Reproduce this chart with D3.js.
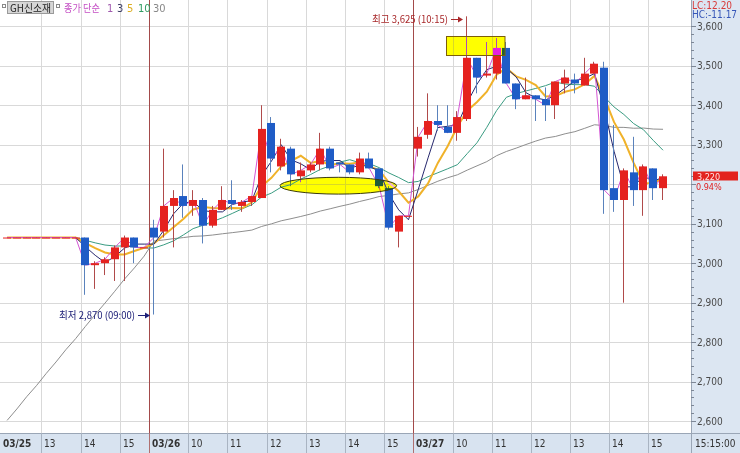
<!DOCTYPE html>
<html><head><meta charset="utf-8">
<script src="https://cdn.jsdelivr.net/npm/d3@7"></script>
<style>
html,body{margin:0;padding:0;background:#fff;}
svg{display:block;}
text{font-family:"Liberation Sans Narrow","DejaVu Sans Condensed","Arial Narrow",sans-serif;}
.kr{font-family:"Noto Sans CJK KR","Noto Sans CJK SC",sans-serif;}
</style></head><body>
<svg id="c" width="740" height="453"></svg>
<script>
// ---- categories (15-minute slots) ----
const times25 = ["12:00","12:15","12:30","12:45","13:00","13:15","13:30","13:45","14:00","14:15","14:30","14:45","15:00","15:15","15:30"];
const times26 = ["09:00","09:15","09:30","09:45","10:00","10:15","10:30","10:45","11:00","11:15","11:30","11:45","12:00","12:15","12:30","12:45","13:00","13:15","13:30","13:45","14:00","14:15","14:30","14:45","15:00","15:15","15:30"];
const times27 = ["09:00","09:15","09:30","09:45","10:00","10:15","10:30","10:45","11:00","11:15","11:30","11:45","12:00","12:15","12:30","12:45","13:00","13:15","13:30","13:45","14:00","14:15","14:30","14:45","15:00","15:15"];

// ---- OHLC values ----
const open  = [3065,3065,3065,3065,3065,3065,3065,3065,
  3065,2995,3000,3010,3040,3065,3040,
  3090,3080,3145,3170,3145,3160,3095,3135,3160,3145,3155,3165,3355,3245,3290,3220,3235,3250,3290,3255,3250,3230,3265,3240,3190,3080,3120,
  3290,3325,3360,3345,3330,3365,3520,3475,3480,3545,3455,3415,3425,3415,3400,3455,3465,3450,3480,3495,3190,3160,3230,3185,3240,3190];
const high  = [3065,3065,3065,3065,3065,3065,3065,3065,
  3065,3005,3015,3045,3070,3065,3040,
  3110,3290,3185,3250,3185,3165,3145,3195,3210,3160,3170,3400,3370,3315,3295,3255,3255,3330,3295,3255,3250,3280,3280,3240,3195,3120,3120,
  3345,3430,3400,3400,3385,3625,3520,3560,3570,3560,3455,3470,3425,3445,3460,3490,3480,3520,3510,3510,3350,3240,3320,3250,3240,3225];
const low   = [3065,3065,3065,3065,3065,3065,3065,3065,
  2920,2935,2970,2955,2955,3000,3040,
  2870,3065,3040,3115,3120,3050,3090,3135,3135,3130,3145,3165,3230,3235,3195,3205,3230,3235,3235,3230,3225,3225,3240,3190,3085,3040,3120,
  3270,3315,3335,3330,3310,3360,3430,3470,3465,3455,3390,3415,3360,3360,3365,3430,3430,3450,3480,3125,3130,2900,3145,3120,3160,3160];
const close = [3065,3065,3065,3065,3065,3065,3065,3065,
  2995,3000,3010,3040,3065,3040,3040,
  3065,3145,3165,3145,3160,3095,3135,3160,3150,3155,3170,3340,3265,3295,3225,3235,3250,3290,3240,3250,3230,3265,3240,3195,3090,3120,3120,
  3320,3360,3350,3330,3370,3520,3470,3480,3545,3455,3415,3425,3415,3400,3460,3470,3455,3480,3505,3185,3160,3235,3185,3245,3190,3220];
const priorClose = 3065;              // level of the flat line before the first slot
const ma30Lead = [2602,2631,2662,2690,2721,2750,2781,2809,2840,2870,2899,2929,2960,2988,3018]; // MA30 as drawn on the first slots

// ---- tick labels ----
const xTickSlots  = ["03/25 12:00","03/25 13:00","03/25 14:00","03/25 15:00","03/26 09:00","03/26 10:00","03/26 11:00","03/26 12:00","03/26 13:00","03/26 14:00","03/26 15:00","03/27 09:00","03/27 10:00","03/27 11:00","03/27 12:00","03/27 13:00","03/27 14:00","03/27 15:00"];
const xTickLabels = ["03/25","13","14","15","03/26","10","11","12","13","14","15","03/27","10","11","12","13","14","15"];
const yTicks = [2600,2700,2800,2900,3000,3100,3200,3300,3400,3500,3600];
const maPeriods = [1,3,5,10,30];
const maColors  = ["#d455d4","#27286e","#f0b22a","#3a9c82","#8e8e8e"];
const lastTime = "15:15:00";
const lastPrice = 3220, lastPct = "0.94%";
const lcText = "LC:12.20", hcText = "HC:-11.17";
const stockName = "GH신소재";
const maxInfo = {slot:"03/27 10:15", price:3625, label:"최고 3,625 (10:15)"};
const minInfo = {slot:"03/26 09:00", price:2870, label:"최저 2,870 (09:00)"};

// ---- build ----
const slots = [].concat(times25.map(t=>"03/25 "+t), times26.map(t=>"03/26 "+t), times27.map(t=>"03/27 "+t));
const data = slots.map((t,i)=>({t, o:open[i], h:high[i], l:low[i], c:close[i]}));

const W = 740, H = 453, plotR = 691, plotB = 433;
const svg = d3.select("#c");
const x = d3.scaleBand().domain(slots).range([2.2, 2.2 + slots.length*9.79]).padding(0);
const y = d3.scaleLinear().domain([2600,3600]).range([421.2, 26.2]);
const bw = x.bandwidth();
const cx = t => Math.round(x(t) + bw/2);

svg.append("rect").attr("width",W).attr("height",H).attr("fill","#fff");

// grid
svg.append("g").selectAll("line").data(yTicks).join("line")
  .attr("x1",0).attr("x2",plotR).attr("y1",d=>Math.round(y(d))+0.5).attr("y2",d=>Math.round(y(d))+0.5)
  .attr("stroke","#d9d9d9");
svg.append("g").selectAll("line").data(xTickSlots.slice(1)).join("line")
  .attr("x1",d=>Math.round(x(d))+0.5).attr("x2",d=>Math.round(x(d))+0.5).attr("y1",0).attr("y2",plotB)
  .attr("stroke",d=>d.endsWith("09:00") ? "#a34a4a" : "#d9d9d9");

// moving averages
function sma(n){
  return close.map((_,i)=>{ let s=0; for(let j=i-n+1;j<=i;j++) s += j<0 ? priorClose : close[j]; return s/n; });
}
const maSeries = maPeriods.map(n=>{
  const v = sma(n);
  if(n===30) ma30Lead.forEach((val,i)=>v[i]=val);
  return v;
});
const line = d3.line().x((d,i)=>x(slots[i])+bw/2).y(d=>y(d));
const order = [4,3,2,1,0];
svg.append("g").attr("fill","none").selectAll("path").data(order).join("path")
  .attr("d",k=>line(maSeries[k]))
  .attr("stroke",k=>maColors[k])
  .attr("stroke-width",k=>maPeriods[k]===5?2:1);

// candles
const cg = svg.append("g").selectAll("g").data(data).join("g");
cg.append("line")
  .attr("x1",d=>cx(d.t)-0.5).attr("x2",d=>cx(d.t)-0.5)
  .attr("y1",d=>y(d.h)).attr("y2",d=>y(d.l))
  .attr("stroke",d=>d.c>=d.o?"#b04a4a":"#5a82bc");
cg.append("rect")
  .attr("x",d=>cx(d.t)-4).attr("width",8)
  .attr("y",d=>Math.min(y(d.o),y(d.c)))
  .attr("height",d=>Math.max(1,Math.abs(y(d.o)-y(d.c))))
  .attr("fill",d=>d.c>=d.o?"#e5221f":"#1f5cc6");

// highlight shapes (XOR-like)
const ell = {cx:338.3, cy:185.7, rx:58.3, ry:8.4};
svg.append("ellipse").attr("cx",ell.cx).attr("cy",ell.cy).attr("rx",ell.rx).attr("ry",ell.ry)
  .attr("fill","#0000ff").style("mix-blend-mode","difference");
svg.append("ellipse").attr("cx",ell.cx).attr("cy",ell.cy).attr("rx",ell.rx).attr("ry",ell.ry)
  .attr("fill","none").attr("stroke","#3a3a10");
const hr = {x:446.5, y:36.5, w:58.5, h:19};
svg.append("rect").attr("x",hr.x).attr("y",hr.y).attr("width",hr.w).attr("height",hr.h)
  .attr("fill","#0000ff").style("mix-blend-mode","difference");
svg.append("rect").attr("x",hr.x).attr("y",hr.y).attr("width",hr.w).attr("height",hr.h)
  .attr("fill","none").attr("stroke","#7d5f08");

// max / min annotations
function annot(info, color){
  const ax = cx(info.slot) - 5, ay = Math.round(y(info.price)) + (info===maxInfo?3:0);
  svg.append("line").attr("x1",ax-11).attr("x2",ax-3).attr("y1",ay+0.5).attr("y2",ay+0.5).attr("stroke",color);
  svg.append("path").attr("d",`M${ax-4},${ay-2.5}L${ax+1},${ay+0.5}L${ax-4},${ay+3.5}Z`).attr("fill",color);
  svg.append("text").attr("class","kr").attr("x",ax-14).attr("y",ay+4).attr("text-anchor","end")
    .attr("font-size",10).attr("fill",color).attr("textLength",76).attr("lengthAdjust","spacingAndGlyphs").text(info.label);
}
annot(maxInfo,"#a8282a");
annot(minInfo,"#1e2078");

// right axis
svg.append("rect").attr("x",plotR).attr("y",0).attr("width",W-plotR).attr("height",plotB).attr("fill","#dce6f2");
svg.append("rect").attr("x",0).attr("y",plotB).attr("width",W).attr("height",H-plotB).attr("fill","#d8e3f0");
svg.append("line").attr("x1",plotR+0.5).attr("x2",plotR+0.5).attr("y1",0).attr("y2",H).attr("stroke","#9aa6b6");
svg.append("line").attr("x1",0).attr("x2",W).attr("y1",plotB+0.5).attr("y2",plotB+0.5).attr("stroke","#9aa6b6");
const minor = d3.range(2600,3601,20);
svg.append("g").selectAll("line").data(minor).join("line")
  .attr("x1",plotR).attr("x2",d=>plotR+(d%100===0?5:3))
  .attr("y1",d=>Math.round(y(d))+0.5).attr("y2",d=>Math.round(y(d))+0.5).attr("stroke","#7d8796");
const py = Math.round(y(lastPrice));
// tick labels hidden behind the current-price box are not drawn (as in the reference)
svg.append("g").selectAll("text").data(yTicks.filter(d=>Math.abs(y(d)-py) > 11)).join("text")
  .attr("x",plotR+6).attr("y",d=>y(d)+3.5).attr("font-size",10).attr("fill","#4a4a4a")
  .text(d=>d3.format(",")(d));
svg.append("text").attr("x",plotR+1).attr("y",8.5).attr("font-size",10).attr("fill","#d83a3a").text(lcText);
svg.append("text").attr("x",plotR+1).attr("y",18).attr("font-size",10).attr("fill","#3656b8").text(hcText);
svg.append("rect").attr("x",plotR+2).attr("y",py-4.5).attr("width",45).attr("height",9).attr("fill","#e3241f");
svg.append("text").attr("x",plotR+6).attr("y",py+3.5).attr("font-size",9).attr("fill","#ffe4e4").text(d3.format(",")(lastPrice));
svg.append("text").attr("x",plotR+5).attr("y",py+13.5).attr("font-size",9).attr("fill","#e02020").text(lastPct);

// bottom axis
svg.append("g").selectAll("line").data(xTickSlots.slice(1)).join("line")
  .attr("x1",d=>Math.round(x(d))+0.5).attr("x2",d=>Math.round(x(d))+0.5).attr("y1",plotB).attr("y2",H)
  .attr("stroke",d=>d.endsWith("09:00")?"#b07070":"#a9b4c2");
svg.append("g").selectAll("text").data(xTickSlots).join("text")
  .attr("x",(d,i)=>i===0?3:Math.round(x(d))+3).attr("y",447).attr("font-size",10)
  .attr("font-weight",(d,i)=>xTickLabels[i].includes("/")?"bold":"normal")
  .attr("fill","#333").text((d,i)=>xTickLabels[i]);
svg.append("text").attr("x",plotR+4).attr("y",447).attr("font-size",10).attr("fill","#333").text(lastTime);

// legend
svg.append("rect").attr("x",2.5).attr("y",4.5).attr("width",3).attr("height",3).attr("fill","#fff").attr("stroke","#888");
svg.append("rect").attr("x",7.5).attr("y",1.5).attr("width",46).attr("height",12).attr("fill","#d6d6d6").attr("stroke","#9a9a9a");
svg.append("text").attr("class","kr").attr("x",10).attr("y",11.5).attr("font-size",10).attr("fill","#222")
  .attr("textLength",41).attr("lengthAdjust","spacingAndGlyphs").text(stockName);
svg.append("rect").attr("x",56.5).attr("y",4.5).attr("width",3).attr("height",3).attr("fill","#fff").attr("stroke","#888");
svg.append("text").attr("class","kr").attr("x",64).attr("y",11.5).attr("font-size",10).attr("fill","#c44ec4")
  .attr("textLength",36).attr("lengthAdjust","spacingAndGlyphs").text("종가 단순");
const legX = [107,117,127,138,153];
const legCol = ["#a05aae","#3c3c64","#dcae22","#2f9c62","#888"];
svg.append("g").selectAll("text").data(maPeriods).join("text")
  .attr("x",(d,i)=>legX[i]).attr("y",11.5).attr("font-size",11).attr("fill",(d,i)=>legCol[i]).text(d=>d);
</script>
</body></html>
